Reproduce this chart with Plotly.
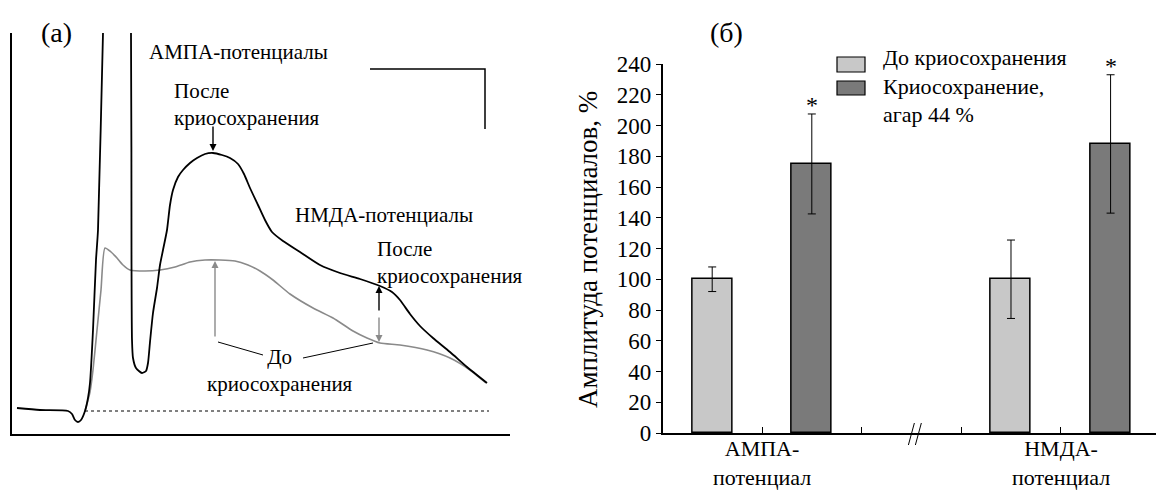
import plotly.graph_objects as go

W, H = 1156, 493
FONT = "Liberation Serif"

# ---------------- Panel (a): schematic potentials (time, amplitude; arbitrary units) ----------------
after_t = [5, 28, 56, 60, 63, 66, 69, 73, 76, 78, 81, 84, 86, 91, 93, 117, 119, 119.5, 120, 121, 124, 130,
           134, 136, 138, 141, 145, 148, 151, 155, 158, 161, 166, 171, 178, 185, 193, 201, 210, 218, 226,
           232, 238, 246, 253, 260, 271, 288, 308, 328, 348, 368, 380, 388, 398, 408, 421, 438, 455, 475]
after_a = [26, 24, 23, 20, 14, 12, 14, 23, 36, 51, 104, 174, 204, 401, 464, 464, 401, 174, 94, 76, 66, 61,
           63, 71, 92, 121, 146, 169, 184, 204, 229, 244, 257, 264, 271, 276, 280, 281, 279, 276, 270,
           260, 246, 229, 214, 202, 193, 182, 169, 161, 155, 148, 142, 134, 120, 108, 96, 82, 67, 51]

before_t = [73, 78, 81, 85, 89, 93, 99, 105, 111, 118, 133, 148, 163, 178, 193, 208, 223, 236, 248, 261,
            278, 301, 321, 341, 355, 368, 388, 415, 438, 458, 474]
before_a = [23, 42, 64, 104, 144, 186, 182, 176, 169, 164, 163, 164, 167, 172, 174, 174, 173, 169, 163, 154,
            140, 126, 116, 103, 96, 91, 89, 84, 76, 64, 51]

baseline_t = [73, 477]
baseline_a = [23, 23]

scale_t = [358, 473, 473]
scale_a = [365, 365, 305]

# ---------------- Panel (б): amplitudes ----------------
categories = ["АМПА-потенциал", "НМДА-потенциал"]
cat_labels = ["АМПА-<br>потенциал", "НМДА-<br>потенциал"]
series_names = ["До криосохранения", "Криосохранение, агар 44 %"]
legend_text = "До криосохранения<br>Криосохранение,<br>агар 44 %"
before_vals = [100, 100]
before_err = [8, 25.5]
after_vals = [175, 188]
after_err = [32.5, 45]
y_ticks = list(range(0, 241, 20))

LIGHT = "#c8c8c8"
DARK = "#7a7a7a"
GRAY_LINE = "#8a8a8a"


def px(x):
    return x / W


def py(y):
    return 1 - y / H


fig = go.Figure()

# ---- panel (a) traces ----
fig.add_trace(go.Scatter(x=baseline_t, y=baseline_a, mode="lines", xaxis="x", yaxis="y",
                         line=dict(color="black", width=1, dash="3px,3px"), showlegend=False, hoverinfo="skip"))
fig.add_trace(go.Scatter(x=before_t, y=before_a, mode="lines", xaxis="x", yaxis="y",
                         line=dict(color=GRAY_LINE, width=1.6, shape="spline", smoothing=0.6),
                         showlegend=False, name="До криосохранения"))
fig.add_trace(go.Scatter(x=after_t, y=after_a, mode="lines", xaxis="x", yaxis="y",
                         line=dict(color="black", width=1.8, shape="spline", smoothing=0.6),
                         showlegend=False, name="После криосохранения"))
fig.add_trace(go.Scatter(x=scale_t, y=scale_a, mode="lines", xaxis="x", yaxis="y",
                         line=dict(color="black", width=1.5), showlegend=False, hoverinfo="skip"))

# ---- panel (б) bars ----
n = len(categories)
before_x = [3 * i for i in range(n)]
after_x = [3 * i + 1 for i in range(n)]
group_x = [3 * i + 0.5 for i in range(n)]

fig.add_trace(go.Bar(x=before_x, y=before_vals, width=0.4, xaxis="x2", yaxis="y2", name=series_names[0],
                     marker=dict(color=LIGHT, line=dict(color="black", width=1.5)),
                     error_y=dict(type="data", array=before_err, color="black", thickness=1, width=4),
                     showlegend=False))
fig.add_trace(go.Bar(x=after_x, y=after_vals, width=0.4, xaxis="x2", yaxis="y2", name=series_names[1],
                     marker=dict(color=DARK, line=dict(color="black", width=1.5)),
                     error_y=dict(type="data", array=after_err, color="black", thickness=1, width=4),
                     showlegend=False))

annotations = []
shapes = []


def text(x, y, s, size=21, xanchor="left", yanchor="middle", align="left", **kw):
    annotations.append(dict(x=px(x), y=py(y), xref="paper", yref="paper", text=s, showarrow=False,
                            xanchor=xanchor, yanchor=yanchor, align=align,
                            font=dict(family=FONT, size=size, color="black"), **kw))


# panel (a) labels
text(56, 32, "(a)", size=28, xanchor="center", align="center")
text(147, 52, "АМПА-потенциалы")
text(172, 104, "После<br>криосохранения")
text(293, 215, "НМДА-потенциалы")
text(375, 262, "После<br>криосохранения")
text(280, 370, "До<br>криосохранения", xanchor="center", align="center")


def arrow(t, a_head, a_tail, color):
    annotations.append(dict(x=t, y=a_head, ax=t, ay=a_tail, xref="x", yref="y", axref="x", ayref="y",
                            text="", showarrow=True, arrowhead=2, arrowsize=1, arrowwidth=1.4,
                            arrowcolor=color))


arrow(201, 283, 309, "black")
arrow(203, 173, 96, GRAY_LINE)
arrow(367, 148, 122, "black")
arrow(367, 92, 118, GRAY_LINE)

for (t0, a0, t1, a1) in [(206, 92, 251, 79), (291, 76, 361, 91)]:
    shapes.append(dict(type="line", xref="x", yref="y", x0=t0, y0=a0, x1=t1, y1=a1,
                       line=dict(color="black", width=1)))

# panel (б) labels
text(726, 32, "(б)", size=28, xanchor="center", align="center")
annotations.append(dict(x=px(588), y=py(250), xref="paper", yref="paper", text="Амплитуда потенциалов, %",
                        textangle=-90, showarrow=False, xanchor="center", yanchor="middle",
                        font=dict(family=FONT, size=27, color="black")))
for gx, lab in zip(group_x, cat_labels):
    annotations.append(dict(x=gx, y=py(492), xref="x2", yref="paper", text=lab, showarrow=False,
                            xanchor="center", yanchor="bottom", align="center",
                            font=dict(family=FONT, size=22, color="black")))

for xv, v, e in zip(after_x, after_vals, after_err):
    annotations.append(dict(x=xv, y=v + e, xref="x2", yref="y2", text="*", showarrow=False,
                            xanchor="center", yanchor="bottom", yshift=-6,
                            font=dict(family=FONT, size=24, color="black")))

# axis break mark
for xa, xb in [(1.97, 2.03), (2.04, 2.10)]:
    shapes.append(dict(type="line", xref="x2", yref="paper", x0=xa, x1=xb, y0=py(445), y1=py(423),
                       line=dict(color="black", width=1)))

# legend (manual)
for col, y0, y1 in [(LIGHT, 57, 72), (DARK, 81, 95)]:
    shapes.append(dict(type="rect", xref="paper", yref="paper", x0=px(837), x1=px(865), y0=py(y1), y1=py(y0),
                       fillcolor=col, line=dict(color="black", width=1.2)))
text(881, 86, legend_text, size=22)

common = dict(showgrid=False, zeroline=False, automargin=False)
fig.update_layout(
    width=W, height=H, margin=dict(l=0, r=0, t=0, b=0, pad=0, autoexpand=False),
    paper_bgcolor="white", plot_bgcolor="white", showlegend=False, bargap=0,
    font=dict(family=FONT, color="black"),
    xaxis=dict(domain=[px(12), px(510)], range=[0, 498], showline=True, linecolor="black", linewidth=1.5,
               showticklabels=False, ticks="", anchor="y", fixedrange=True, **common),
    yaxis=dict(domain=[py(434), py(33)], range=[0, 401], showline=True, linecolor="black", linewidth=1.5,
               showticklabels=False, ticks="", anchor="x", fixedrange=True, **common),
    xaxis2=dict(domain=[px(662.6), 1.0], range=[-0.498, 4.456], showline=True, linecolor="black",
                linewidth=1.5, tickvals=[0.5, 1.5, 2.5, 3.5], showticklabels=False, ticks="inside",
                ticklen=6, tickcolor="black", tickwidth=1, anchor="y2", **common),
    yaxis2=dict(domain=[py(433), py(64)], range=[0, 240], showline=True, linecolor="black", linewidth=1.5,
                tickvals=y_ticks, ticks="outside", ticklen=5, tickcolor="black", tickwidth=1,
                tickfont=dict(family=FONT, size=23, color="black"), anchor="x2", **common),
    annotations=annotations, shapes=shapes,
)

fig.write_html("out.html")
